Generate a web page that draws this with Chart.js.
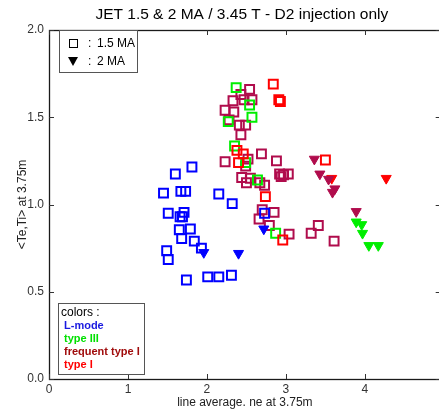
<!DOCTYPE html>
<html>
<head>
<meta charset="utf-8">
<script src="https://cdn.jsdelivr.net/npm/chart.js@4"></script>
<style>
  html, body { margin: 0; padding: 0; background: #fff; overflow: hidden; }
  #wrap { width: 449px; height: 412px; }
</style>
</head>
<body>
<div id="wrap"><canvas id="jetChart" width="449" height="412"></canvas></div>
<script>
// [line average ne, <Te,Ti>] at 3.75m
// 1.5 MA shots -> open squares, 2 MA shots -> filled triangles
const lModeSq = [
  [1.81, 1.215], [1.60, 1.175], [1.45, 1.065], [1.67, 1.075], [1.73, 1.075],
  [2.15, 1.06], [2.32, 1.005], [1.51, 0.95], [1.66, 0.93], [1.71, 0.955],
  [1.69, 0.93], [2.73, 0.95], [1.65, 0.855], [1.79, 0.86], [1.68, 0.805],
  [1.84, 0.79], [1.93, 0.75], [1.49, 0.735], [1.51, 0.685], [1.74, 0.567],
  [2.01, 0.585], [2.15, 0.585], [2.31, 0.595]
];
const lModeTri = [[1.96, 0.725], [2.40, 0.72], [2.72, 0.86]];

const typeThreeSq = [
  [2.37, 1.67], [2.54, 1.57], [2.57, 1.50], [2.27, 1.475], [2.35, 1.335],
  [2.49, 1.24], [2.64, 1.14], [2.87, 0.835]
];
const typeThreeTri = [[3.89, 0.90], [3.96, 0.885], [3.97, 0.835], [4.05, 0.765], [4.17, 0.765]];

const freqTypeOneSq = [
  [2.54, 1.66], [2.43, 1.63], [2.47, 1.60], [2.57, 1.60], [2.33, 1.595],
  [2.23, 1.54], [2.34, 1.53], [2.28, 1.485], [2.41, 1.455], [2.49, 1.455],
  [2.43, 1.40], [2.69, 1.29], [2.23, 1.245], [2.88, 1.25], [2.52, 1.26],
  [2.49, 1.22], [2.44, 1.155], [2.55, 1.15], [2.50, 1.125], [2.67, 1.125],
  [2.73, 1.11], [2.92, 1.175], [2.97, 1.17], [3.03, 1.175], [2.94, 1.16],
  [2.70, 0.97], [2.85, 0.955], [2.66, 0.917], [2.79, 0.88], [3.04, 0.83],
  [3.32, 0.835], [3.41, 0.88], [3.61, 0.79]
];
const freqTypeOneTri = [[3.36, 1.26], [3.43, 1.175], [3.54, 1.145], [3.62, 1.09], [3.59, 1.07], [3.89, 0.96]];

const typeOneSq = [
  [2.84, 1.69], [2.91, 1.60], [2.93, 1.59], [2.38, 1.31], [2.46, 1.29],
  [2.40, 1.24], [2.74, 1.045], [2.96, 0.797], [3.50, 1.255]
];
const typeOneTri = [[4.27, 1.15], [3.58, 1.15]];

const xTicks = [0, 1, 2, 3, 4];
const yTicks = [0, 0.5, 1, 1.5, 2];

const colLMode = '#0000ff';
const colTypeThree = '#00ee00';
const colFreq = '#b00c4c';
const colTypeOne = '#ff0000';

const FONT = '"Liberation Sans", Arial, sans-serif';

function toPoints(arr) {
  return arr.map(p => ({ x: p[0], y: p[1] }));
}

function squares(arr, color) {
  return {
    data: toPoints(arr),
    pointStyle: 'rect',
    pointRadius: 6.3,
    pointBorderWidth: 2,
    pointBorderColor: color,
    pointBackgroundColor: 'rgba(0,0,0,0)'
  };
}

function triangles(arr, color) {
  return {
    data: toPoints(arr),
    pointStyle: 'triangle',
    pointRotation: 180,
    pointRadius: 5.8,
    pointBorderWidth: 1,
    pointBorderColor: color,
    pointBackgroundColor: color
  };
}

// frame, inward ticks, title and the two boxed keys
const decorations = {
  id: 'decorations',
  afterDraw(chart) {
    const ctx = chart.ctx;
    const a = chart.chartArea;
    const xs = chart.scales.x;
    const ys = chart.scales.y;
    const tl = 5;

    ctx.save();
    ctx.strokeStyle = '#1a1a1a';
    ctx.lineWidth = 1.3;
    ctx.strokeRect(a.left + 0.5, a.top + 0.5, a.right - a.left, a.bottom - a.top);

    ctx.lineWidth = 1;
    ctx.strokeStyle = '#333';
    ctx.beginPath();
    xs.ticks.forEach((t, i) => {
      const px = Math.round(xs.getPixelForTick(i)) + 0.5;
      ctx.moveTo(px, a.bottom);
      ctx.lineTo(px, a.bottom - tl);
      ctx.moveTo(px, a.top);
      ctx.lineTo(px, a.top + tl);
    });
    ys.ticks.forEach((t, i) => {
      const py = Math.round(ys.getPixelForTick(i)) + 0.5;
      ctx.moveTo(a.left, py);
      ctx.lineTo(a.left + tl, py);
      ctx.moveTo(a.right, py);
      ctx.lineTo(a.right - tl, py);
    });
    ctx.stroke();

    // title, centred over the plot area
    ctx.fillStyle = '#000';
    ctx.font = '15.5px ' + FONT;
    ctx.textAlign = 'center';
    ctx.textBaseline = 'middle';
    ctx.fillText('JET 1.5 & 2 MA / 3.45 T - D2 injection only', (a.left + a.right) / 2 - 3, 15);

    // plasma current key
    ctx.fillStyle = '#fff';
    ctx.fillRect(59, 30, 78, 42);
    ctx.strokeStyle = '#555';
    ctx.strokeRect(59.5, 30.5, 78, 42);
    ctx.strokeStyle = '#000';
    ctx.strokeRect(69.5, 39.5, 8, 8);
    ctx.fillStyle = '#000';
    ctx.beginPath();
    ctx.moveTo(68, 57);
    ctx.lineTo(78, 57);
    ctx.lineTo(73, 66);
    ctx.closePath();
    ctx.fill();
    ctx.font = '12px ' + FONT;
    ctx.textAlign = 'left';
    ctx.fillText(':', 88, 44);
    ctx.fillText('1.5 MA', 97, 44);
    ctx.fillText(':', 88, 62);
    ctx.fillText('2 MA', 97, 62);

    // regime colour key
    ctx.fillStyle = '#fff';
    ctx.fillRect(58, 303, 86, 71);
    ctx.strokeStyle = '#555';
    ctx.strokeRect(58.5, 303.5, 86, 71);
    ctx.fillStyle = '#000';
    ctx.font = '12px ' + FONT;
    ctx.fillText('colors :', 61, 313);
    ctx.font = 'bold 11px ' + FONT;
    ctx.fillStyle = '#1a1ae0';
    ctx.fillText('L-mode', 64, 326);
    ctx.fillStyle = '#00e000';
    ctx.fillText('type III', 64, 339);
    ctx.fillStyle = '#a00c0c';
    ctx.fillText('frequent type I', 64, 352);
    ctx.fillStyle = '#ff0000';
    ctx.fillText('type I', 64, 365);
    ctx.restore();
  }
};

new Chart(document.getElementById('jetChart'), {
  type: 'scatter',
  data: {
    // first dataset ends up drawn on top
    datasets: [
      squares(lModeSq, colLMode),
      triangles(lModeTri, colLMode),
      squares(typeOneSq, colTypeOne),
      squares(typeThreeSq, colTypeThree),
      squares(freqTypeOneSq, colFreq),
      triangles(typeThreeTri, colTypeThree),
      triangles(freqTypeOneTri, colFreq),
      triangles(typeOneTri, colTypeOne)
    ]
  },
  options: {
    responsive: false,
    animation: false,
    layout: { padding: { top: 30, right: 5, left: 0, bottom: 0 } },
    plugins: {
      legend: { display: false },
      tooltip: { enabled: false },
      title: { display: false }
    },
    scales: {
      x: {
        type: 'linear',
        min: 0,
        max: 4.96,
        afterBuildTicks: s => { s.ticks = xTicks.map(v => ({ value: v })); },
        afterFit: s => { s.height = 33; },
        grid: { display: false, drawTicks: false },
        border: { display: false },
        ticks: { padding: 3, color: '#333', font: { family: FONT, size: 12 } },
        title: {
          display: true,
          text: 'line average. ne at 3.75m',
          color: '#222',
          font: { family: FONT, size: 12 },
          padding: { top: 0, bottom: 2 }
        }
      },
      y: {
        type: 'linear',
        min: 0,
        max: 2,
        afterBuildTicks: s => { s.ticks = yTicks.map(v => ({ value: v })); },
        afterFit: s => { s.width = 49; },
        grid: { display: false, drawTicks: false },
        border: { display: false },
        ticks: {
          padding: 5,
          color: '#333',
          font: { family: FONT, size: 12 },
          callback: v => v.toFixed(1)
        },
        title: {
          display: true,
          text: '<Te,Ti> at 3.75m',
          color: '#222',
          font: { family: FONT, size: 12 },
          padding: { top: 15, bottom: 0 }
        }
      }
    }
  },
  plugins: [decorations]
});
</script>
</body>
</html>
